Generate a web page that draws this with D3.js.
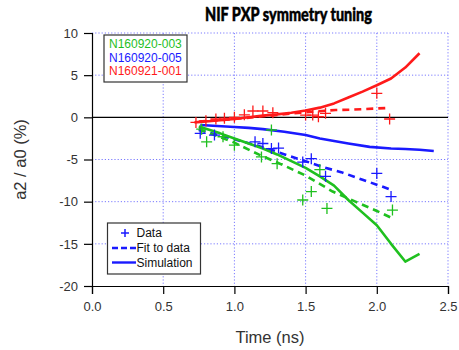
<!DOCTYPE html>
<html><head><meta charset="utf-8">
<script src="https://cdn.jsdelivr.net/npm/d3@7"></script>
<style>body{margin:0;background:#fff}svg{display:block}</style>
</head><body>
<script>
// ---- data ----
const xTicks = [0.0, 0.5, 1.0, 1.5, 2.0, 2.5];
const yTicks = [10, 5, 0, -5, -10, -15, -20];
const shots = ["N160920-003", "N160920-005", "N160921-001"];
const shotColors = ["#1fc01f", "#1a1aff", "#ff1a1a"];

// Simulation curves
const greenSimT = [0.75, 0.9, 1.0, 1.1, 1.2, 1.3, 1.4, 1.5, 1.6, 1.7, 1.8, 1.9, 2.0, 2.1, 2.2, 2.3];
const greenSimV = [-1.1, -1.9, -2.5, -3.1, -3.7, -4.4, -5.2, -6.0, -7.0, -8.1, -9.8, -11.3, -12.8, -15.0, -17.1, -16.2];
const blueSimT = [0.76, 0.85, 1.0, 1.1, 1.2, 1.35, 1.5, 1.6, 1.7, 1.8, 1.95, 2.1, 2.2, 2.3, 2.4];
const blueSimV = [-0.9, -1.0, -1.15, -1.25, -1.4, -1.7, -2.1, -2.5, -2.8, -3.1, -3.5, -3.7, -3.75, -3.85, -4.0];
const redSimT = [0.72, 0.8, 0.9, 1.0, 1.1, 1.2, 1.3, 1.4, 1.5, 1.6, 1.7, 1.8, 1.9, 2.0, 2.1, 2.2, 2.3];
const redSimV = [-0.6, -0.5, -0.35, -0.2, 0.0, 0.2, 0.35, 0.55, 0.8, 1.15, 1.65, 2.35, 3.05, 3.8, 4.6, 5.9, 7.6];

// Fits to data
const greenFitT = [0.75, 1.0, 1.17, 1.34, 1.5, 1.69, 1.85, 2.0, 2.1];
const greenFitV = [-1.4, -3.0, -4.4, -5.65, -6.9, -8.8, -10.0, -11.1, -11.9];
const blueFitT = [0.75, 1.0, 1.25, 1.37, 1.5, 1.62, 1.75, 1.9, 2.07, 2.1];
const blueFitV = [-1.5, -2.6, -3.8, -4.5, -5.2, -5.9, -6.5, -7.4, -8.4, -8.6];
const redFitT = [0.75, 1.0, 1.25, 1.5, 1.71, 1.81, 2.0, 2.09];
const redFitV = [-0.5, -0.2, 0.2, 0.6, 0.87, 0.9, 1.05, 1.12];

// Measured data
const greenDataT = [0.77, 0.805, 0.92, 1.0, 1.19, 1.26, 1.30, 1.48, 1.54, 1.6, 1.65, 2.11];
const greenDataV = [-1.4, -2.9, -2.3, -3.3, -4.7, -1.5, -5.5, -9.8, -8.8, -6.2, -10.8, -11.0];
const blueDataT = [0.76, 0.86, 1.145, 1.2, 1.26, 1.31, 1.48, 1.54, 1.64, 2.0, 2.1];
const blueDataV = [-1.9, -2.1, -2.9, -3.1, -3.7, -3.65, -5.3, -4.9, -7.0, -6.65, -9.4];
const redDataT = [0.73, 0.80, 0.87, 0.93, 1.0, 1.07, 1.13, 1.20, 1.27, 1.5, 1.55, 1.59, 1.64, 2.0, 2.09];
const redDataV = [-0.6, -0.4, -0.2, -0.1, 0.0, 0.3, 0.75, 0.75, 0.55, 0.27, 0.27, 0.07, 0.47, 2.85, -0.2];

const legendItems = ["Data", "Fit to data", "Simulation"];

// ---- chart ----
const W = 459, H = 350;
const m = {left: 92, right: 11, top: 33, bottom: 64};
const svg = d3.select("body").append("svg").attr("width", W).attr("height", H);
const x = d3.scaleLinear().domain([0, 2.5]).range([m.left, W - m.right]);
const y = d3.scaleLinear().domain([-20, 10]).range([H - m.bottom, m.top]);
const font = "'Liberation Sans', Arial, sans-serif";
const gridColor = "#7a7aff";

// grid
const grid = svg.append("g");
grid.selectAll("line.vx").data(xTicks.filter(d => d > 0)).join("line")
  .attr("x1", d => x(d)).attr("x2", d => x(d)).attr("y1", y(10)).attr("y2", y(-20))
  .attr("stroke", gridColor).attr("stroke-width", 1).attr("stroke-dasharray", "1.2,2");
grid.selectAll("line.hy").data(yTicks.filter(d => d !== 0 && d !== -20)).join("line")
  .attr("y1", d => y(d)).attr("y2", d => y(d)).attr("x1", x(0)).attr("x2", x(2.5))
  .attr("stroke", gridColor).attr("stroke-width", 1).attr("stroke-dasharray", "1.2,2");

// zero line
svg.append("line").attr("x1", x(0)).attr("x2", x(2.5)).attr("y1", y(0)).attr("y2", y(0))
  .attr("stroke", "#000").attr("stroke-width", 1.2);

// axes
const xAxis = d3.axisBottom(x).tickValues(xTicks).tickFormat(d3.format(".1f")).tickSize(8).tickPadding(8);
const gx = svg.append("g").attr("transform", `translate(0,${y(-20)})`).call(xAxis);
const yAxis = d3.axisLeft(y).tickValues(yTicks).tickFormat(d3.format("d")).tickSize(8).tickPadding(6);
const gy = svg.append("g").attr("transform", `translate(${x(0)},0)`).call(yAxis);
[gx, gy].forEach(g => {
  g.select(".domain").attr("stroke", "#000").attr("stroke-width", 1.2);
  g.selectAll(".tick line").attr("stroke", "#000").attr("stroke-width", 1.2);
  g.selectAll(".tick text").attr("font-family", font).attr("font-size", 13).attr("fill", "#333");
});
gy.selectAll(".tick text").text(d => d < 0 ? "-" + Math.abs(d) : d);

// series
const line = d3.line().x(d => x(d[0])).y(d => y(d[1]));
const zip = (a, b) => a.map((t, i) => [t, b[i]]);
const sims = [zip(greenSimT, greenSimV), zip(blueSimT, blueSimV), zip(redSimT, redSimV)];
const fits = [zip(greenFitT, greenFitV), zip(blueFitT, blueFitV), zip(redFitT, redFitV)];
const datas = [zip(greenDataT, greenDataV), zip(blueDataT, blueDataV), zip(redDataT, redDataV)];

const order = [1, 0, 2];
order.forEach(i => {
  svg.append("path").datum(fits[i]).attr("d", line).attr("fill", "none")
    .attr("stroke", shotColors[i]).attr("stroke-width", 2.6).attr("stroke-dasharray", "7,5");
});
order.forEach(i => {
  svg.append("path").datum(sims[i]).attr("d", line).attr("fill", "none")
    .attr("stroke", shotColors[i]).attr("stroke-width", 2.6).attr("stroke-linejoin", "round");
});
order.forEach(i => {
  const g = svg.append("g");
  g.selectAll("path").data(datas[i]).join("path")
    .attr("d", d => `M${x(d[0]) - 5.5},${y(d[1])}h11M${x(d[0])},${y(d[1]) - 5.5}v11`)
    .attr("stroke", shotColors[i]).attr("stroke-width", 1.3).attr("fill", "none");
});

// title
svg.append("text").attr("x", 288.5).attr("y", 21).attr("text-anchor", "middle")
  .attr("font-family", "Lato, 'Open Sans', sans-serif").attr("font-weight", 900).attr("font-size", 18.5)
  .attr("textLength", 167).attr("lengthAdjust", "spacingAndGlyphs")
  .attr("stroke", "#000").attr("stroke-width", 0.5)
  .attr("fill", "#000").text("NIF PXP symmetry tuning");

// axis titles
svg.append("text").attr("transform", `translate(26,${(y(10) + y(-20)) / 2}) rotate(-90)`)
  .attr("text-anchor", "middle").attr("font-family", font).attr("font-size", 16.5).attr("fill", "#333")
  .text("a2 / a0 (%)");
svg.append("text").attr("x", x(1.25)).attr("y", 343).attr("text-anchor", "middle")
  .attr("font-family", font).attr("font-size", 16.5).attr("fill", "#333").text("Time (ns)");

// legend 1 (shots)
const l1 = svg.append("g");
l1.append("rect").attr("x", 104).attr("y", 35).attr("width", 83).attr("height", 47)
  .attr("fill", "#fff").attr("stroke", "#333").attr("stroke-width", 1.2);
l1.selectAll("text").data(shots).join("text")
  .attr("x", 109).attr("y", (d, i) => 48 + i * 13.5)
  .attr("font-family", font).attr("font-size", 12).attr("fill", (d, i) => shotColors[i]).text(d => d);

// legend 2 (styles)
const l2 = svg.append("g");
l2.append("rect").attr("x", 107.5).attr("y", 223).attr("width", 93).attr("height", 51)
  .attr("fill", "#fff").attr("stroke", "#333").attr("stroke-width", 1.2);
const ly = [233, 248, 262.5];
const blue = shotColors[1];
l2.append("path").attr("d", `M${121},${ly[0]}h8M${125},${ly[0] - 4}v8`).attr("stroke", blue).attr("stroke-width", 1.5);
l2.append("path").attr("d", `M112,${ly[1]}h24`).attr("stroke", blue).attr("stroke-width", 2.4).attr("stroke-dasharray", "6,3");
l2.append("path").attr("d", `M112,${ly[2]}h24`).attr("stroke", blue).attr("stroke-width", 2.4);
l2.selectAll("text").data(legendItems).join("text")
  .attr("x", 136.5).attr("y", (d, i) => ly[i] + 4.2)
  .attr("font-family", font).attr("font-size", 12).attr("fill", "#111").text(d => d);
</script>
</body></html>
